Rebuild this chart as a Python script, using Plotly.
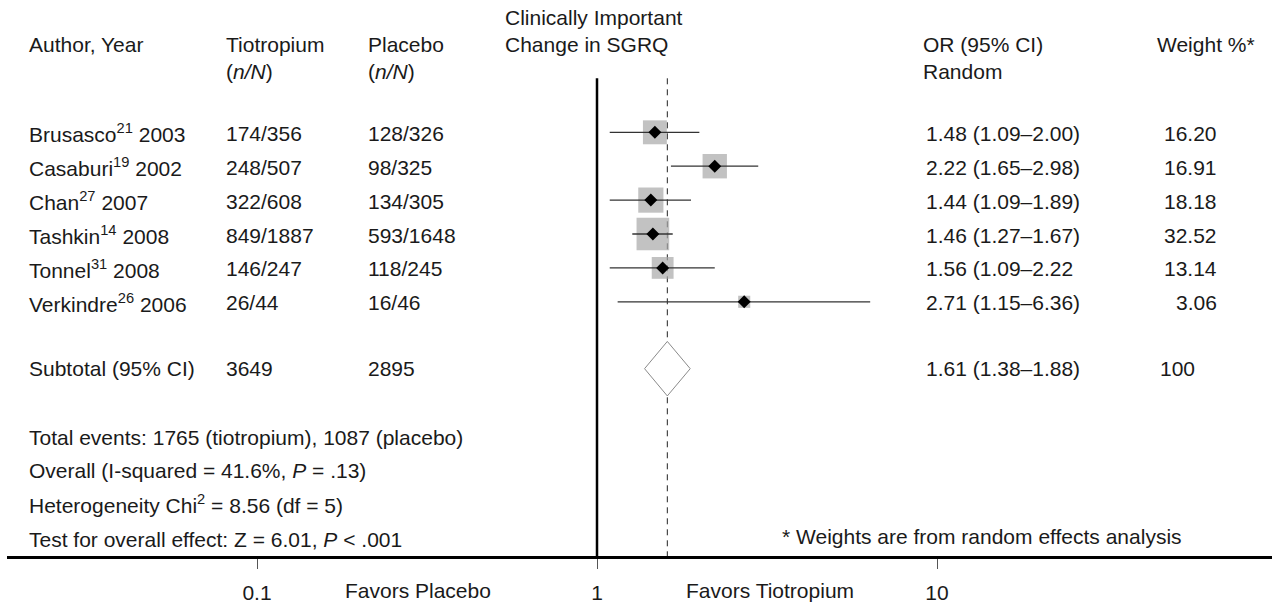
import numpy as np
import plotly.graph_objects as go

# ---------------- data ----------------
study_names = ["Brusasco<sup>21</sup> 2003", "Casaburi<sup>19</sup> 2002", "Chan<sup>27</sup> 2007",
               "Tashkin<sup>14</sup> 2008", "Tonnel<sup>31</sup> 2008", "Verkindre<sup>26</sup> 2006"]
tiotropium_nN = ["174/356", "248/507", "322/608", "849/1887", "146/247", "26/44"]
placebo_nN = ["128/326", "98/325", "134/305", "593/1648", "118/245", "16/46"]
odds_ratio = [1.48, 2.22, 1.44, 1.46, 1.56, 2.71]
ci_low = [1.09, 1.65, 1.09, 1.27, 1.09, 1.15]
ci_high = [2.00, 2.98, 1.89, 1.67, 2.22, 6.36]
or_labels = ["1.48 (1.09–2.00)", "2.22 (1.65–2.98)", "1.44 (1.09–1.89)",
             "1.46 (1.27–1.67)", "1.56 (1.09–2.22", "2.71 (1.15–6.36)"]
weight_pct = [16.20, 16.91, 18.18, 32.52, 13.14, 3.06]
weight_labels = ["16.20", "16.91", "18.18", "32.52", "13.14", "3.06"]

subtotal_label = "Subtotal (95% CI)"
subtotal_tio = "3649"
subtotal_pla = "2895"
pooled_or = 1.61
pooled_low = 1.38
pooled_high = 1.88
pooled_label = "1.61 (1.38–1.88)"
pooled_weight = "100"

footer_lines = ["Total events: 1765 (tiotropium), 1087 (placebo)",
                "Overall (I-squared = 41.6%, <i>P</i> = .13)",
                "Heterogeneity Chi<sup>2</sup> = 8.56 (df = 5)",
                "Test for overall effect: Z = 6.01, <i>P</i> < .001"]
footnote = "* Weights are from random effects analysis"

tick_vals = [0.1, 1, 10]
tick_text = ["0.1", "1", "10"]
favors_left = "Favors Placebo"
favors_right = "Favors Tiotropium"

# ---------------- layout geometry ----------------
W, H = 1272, 604
ML, MR, MT, MB = 7, 0, 0, 43
AXIS_PX = H - MB                 # pixel row of x axis
ONE_PX, DECADE = 597.0, 340.0    # pixel of OR=1, pixels per decade
ROW0, ROWSTEP = 133.5, 34.2      # pixel centre of first study row, row spacing

def row_of(py):
    return (py - ROW0) / ROWSTEP

def xpaper(px):
    return (px - ML) / (W - ML - MR)

x_range = [(ML - ONE_PX) / DECADE, (W - MR - ONE_PX) / DECADE]
y_range = [row_of(AXIS_PX), row_of(MT)]

FONT = "Liberation Sans, Arial, Helvetica, sans-serif"
FS = 21
TXT = "#1a1a1a"

n = len(study_names)
rows = list(range(n))
sub_row = row_of(372)
footer_rows = [row_of(p) for p in (441, 475, 509, 544)]
line_top = row_of(79)

fig = go.Figure()

# vertical reference lines
fig.add_trace(go.Scatter(x=[1, 1], y=[line_top, y_range[0]], mode="lines",
                         line=dict(color="black", width=2.5), hoverinfo="skip", showlegend=False))
fig.add_trace(go.Scatter(x=[pooled_or, pooled_or], y=[line_top, y_range[0]], mode="lines",
                         line=dict(color="#222", width=1, dash="6px,5px"), hoverinfo="skip", showlegend=False))

# weight squares (side grows with sqrt of weight)
fig.add_trace(go.Scatter(x=odds_ratio, y=rows, mode="markers",
                         marker=dict(symbol="square", size=[3.0 + 5.2 * np.sqrt(w) for w in weight_pct],
                                     color="#a8a8a8", line=dict(width=0)),
                         hoverinfo="skip", showlegend=False))

# confidence interval lines
cx, cy = [], []
for lo, hi, r in zip(ci_low, ci_high, rows):
    cx += [lo, hi, None]
    cy += [r, r, None]
fig.add_trace(go.Scatter(x=cx, y=cy, mode="lines", line=dict(color="#333", width=1.3),
                         hoverinfo="skip", showlegend=False))

# point estimates
fig.add_trace(go.Scatter(x=odds_ratio, y=rows, mode="markers",
                         marker=dict(symbol="diamond", size=10, color="black"),
                         hoverinfo="skip", showlegend=False))

# pooled diamond
hh = 27.5 / ROWSTEP
fig.add_trace(go.Scatter(x=[pooled_low, pooled_or, pooled_high, pooled_or, pooled_low],
                         y=[sub_row, sub_row - hh, sub_row, sub_row + hh, sub_row],
                         mode="lines", fill="toself", fillcolor="white",
                         line=dict(color="#8a8a8a", width=1), hoverinfo="skip", showlegend=False))

ann = []

def txt(text, px, row, xanchor="left"):
    ann.append(dict(text=text, x=xpaper(px), y=row, xref="paper", yref="y",
                    xanchor=xanchor, yanchor="middle", showarrow=False,
                    font=dict(family=FONT, size=FS, color=TXT)))

# headers
txt("Clinically Important", 503, row_of(18))
txt("Change in SGRQ", 503, row_of(45))
txt("Author, Year", 27, row_of(45))
txt("Tiotropium", 224, row_of(45))
txt("(<i>n/N</i>)", 224, row_of(72))
txt("Placebo", 366, row_of(45))
txt("(<i>n/N</i>)", 366, row_of(72))
txt("OR (95% CI)", 921, row_of(45))
txt("Random", 921, row_of(72))
txt("Weight %*", 1155, row_of(45))

# study rows
for i in range(n):
    txt(study_names[i], 27, rows[i] + 0.03)
    txt(tiotropium_nN[i], 224, rows[i] + 0.03)
    txt(placebo_nN[i], 366, rows[i] + 0.03)
    txt(or_labels[i], 924, rows[i] + 0.03)
    txt(weight_labels[i], 1219, rows[i] + 0.03, xanchor="right")

# subtotal
txt(subtotal_label, 27, sub_row)
txt(subtotal_tio, 224, sub_row)
txt(subtotal_pla, 366, sub_row)
txt(pooled_label, 924, sub_row)
txt(pooled_weight, 1158, sub_row)

# footer
for line, r in zip(footer_lines, footer_rows):
    txt(line, 27, r)
txt(footnote, 780, row_of(541))

# favors labels under axis
for label, cpx in ((favors_left, 418), (favors_right, 770)):
    ann.append(dict(text=label, x=xpaper(cpx), y=-(596 - AXIS_PX) / (AXIS_PX - MT),
                    xref="paper", yref="paper", xanchor="center", yanchor="middle",
                    showarrow=False, font=dict(family=FONT, size=FS, color=TXT)))

fig.update_layout(
    width=W, height=H,
    margin=dict(l=ML, r=MR, t=MT, b=MB),
    paper_bgcolor="white", plot_bgcolor="white",
    showlegend=False,
    annotations=ann,
    xaxis=dict(type="log", range=x_range, showgrid=False, zeroline=False,
               showline=True, linecolor="black", linewidth=2.5,
               ticks="outside", ticklen=10, tickwidth=1, tickcolor="#555",
               tickvals=tick_vals, ticktext=tick_text, ticklabelstandoff=6,
               tickfont=dict(family=FONT, size=FS, color=TXT), fixedrange=True),
    yaxis=dict(range=y_range, visible=False, showgrid=False, zeroline=False, fixedrange=True),
)

fig.write_html("out.html", config={"displayModeBar": False},
               post_script="document.body.style.margin='0';document.body.style.overflow='hidden';")
